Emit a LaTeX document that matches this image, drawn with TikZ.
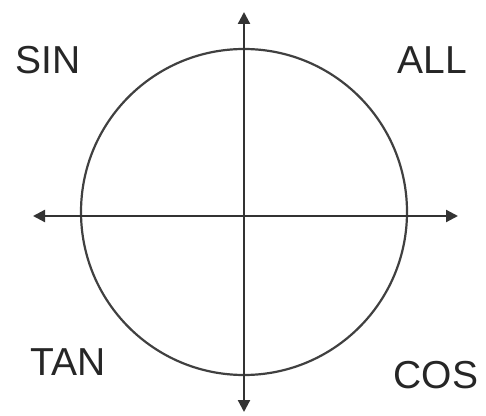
\documentclass[tikz,border=0pt]{standalone}
\usepackage{fontspec}
\setmainfont{Liberation Sans}
\usepackage{tikz}
\usetikzlibrary{arrows.meta,positioning,calc}

\begin{document}
\begin{tikzpicture}[
  x=1pt, y=1pt,
  quad/.style={inner sep=0pt, text=black!85, font=\fontsize{39}{39}\selectfont},
  axis/.style={{Triangle[length=12pt,width=12pt]}-{Triangle[length=12pt,width=12pt]},
               line width=2.2pt, draw=black!80},
  unit/.style={line width=2.2pt, draw=black!75},
  font=\small
]
\useasboundingbox (0,0) rectangle (486,415);

\coordinate (c)     at (244,203);
\coordinate (west)  at (33,199);
\coordinate (east)  at (458,199);
\coordinate (north) at (244,403);
\coordinate (south) at (244,3);

\draw[unit] (c) circle (163);
\draw[axis] (west)  -- (east);
\draw[axis] (south) -- (north);

\node[quad] (sin) at (48,355)  {SIN};
\node[quad] (all) at (432,355) {ALL};
\node[quad] (tan) at (68,53)   {TAN};
\node[quad] (cos) at (436,40)  {COS};

\end{tikzpicture}
\end{document}
